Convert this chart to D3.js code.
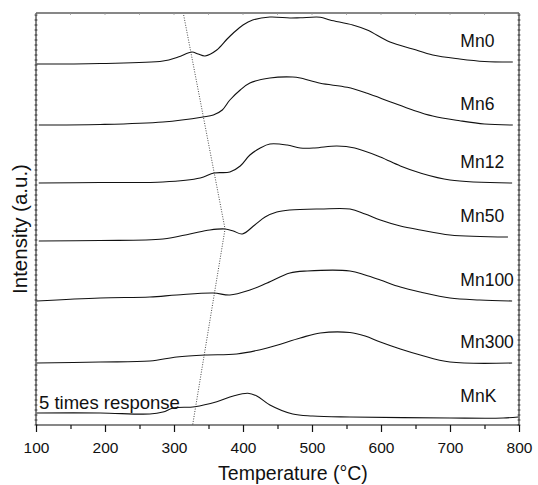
<!DOCTYPE html>
<html>
<head>
<meta charset="utf-8">
<script src="https://cdn.jsdelivr.net/npm/d3@7"></script>
<style>
  body { margin: 0; background: #fff; }
  text { font-family: Arial, "Liberation Sans", Helvetica, sans-serif; fill: #111; }
</style>
</head>
<body>
<svg width="538" height="485"></svg>
<script>
// TPR profiles, temperature (C) vs intensity (a.u., curves stacked)
var mn0 = [[101,36.1],[193,36.15],[284,36.4],[306,36.8],[326,37.3],[335,37.1],[345,36.9],[362,37.5],[377,38.6],[386,39.2],[400,40.0],[414,40.5],[439,40.8],[468,40.7],[483,40.72],[512,40.78],[526,40.5],[559,40.0],[580,39.5],[613,38.3],[646,37.6],[675,37.0],[714,36.6],[750,36.35],[791,36.3]];
var mn6 = [[104,30.0],[193,30.05],[284,30.3],[342,30.8],[357,31.0],[370,31.5],[381,32.5],[396,33.5],[410,34.2],[439,34.7],[472,34.8],[483,34.7],[512,34.17],[551,33.77],[580,33.17],[613,32.33],[646,31.5],[675,30.9],[714,30.43],[750,30.1],[791,30.0]];
var mn12 = [[104,24.2],[193,24.25],[284,24.3],[338,24.7],[358,25.2],[381,25.3],[396,25.9],[410,27.0],[425,27.7],[439,28.1],[464,28.0],[483,27.7],[504,27.7],[536,27.9],[562,27.7],[599,26.8],[628,25.9],[657,25.2],[700,24.5],[790,24.2]];
var mn50 = [[104,18.4],[193,18.45],[284,18.6],[323,19.1],[352,19.5],[374,19.6],[386,19.4],[399,19.1],[417,20.0],[432,20.8],[449,21.3],[468,21.5],[512,21.6],[555,21.6],[577,21.1],[599,20.5],[628,19.9],[657,19.5],[700,19.0],[784,18.8]];
var mn100 = [[101,12.4],[193,12.7],[265,12.8],[304,13.0],[357,13.2],[381,13.0],[410,13.5],[435,14.2],[468,15.2],[493,15.4],[555,15.4],[577,15.0],[599,14.5],[628,13.8],[657,13.3],[700,12.7],[743,12.5],[790,12.4]];
var mn300 = [[101,6.2],[193,6.3],[265,6.4],[304,6.8],[345,7.0],[391,7.1],[435,7.7],[483,8.7],[512,9.2],[555,9.25],[577,8.9],[599,8.3],[628,7.6],[657,7.0],[700,6.3],[790,6.2]];
var mnK = [[101,1.2],[193,1.2],[265,1.1],[284,1.3],[299,1.7],[330,1.83],[362,2.33],[386,2.9],[407,3.17],[420,2.9],[439,2.0],[472,1.1],[501,0.9],[555,0.8],[700,0.7],[777,0.7],[799,0.8]];

var names = ["Mn0", "Mn6", "Mn12", "Mn50", "Mn100", "Mn300", "MnK"];
var series = [mn0, mn6, mn12, mn50, mn100, mn300, mnK];

// dotted guide through the low temperature peaks
var guide = [[314, 41.0], [374, 19.6], [327, 0]];

var xTicks = [100, 200, 300, 400, 500, 600, 700, 800];
var xMinor = [150, 250, 350, 450, 550, 650, 750];

var svg = d3.select("svg");

var x = d3.scaleLinear().domain([100, 800]).range([36, 519]);
var y = d3.scaleLinear().domain([0, 41.2]).range([425, 13]);

var line = d3.line()
    .x(function(d) { return x(d[0]); })
    .y(function(d) { return y(d[1]); })
    .curve(d3.curveCatmullRom.alpha(0.5));

// frame
svg.append("line").attr("x1", 36).attr("x2", 519).attr("y1", 13).attr("y2", 13)
    .attr("stroke", "#111").attr("stroke-width", 1.2);
svg.append("line").attr("x1", 519).attr("x2", 519).attr("y1", 13).attr("y2", 425)
    .attr("stroke", "#111").attr("stroke-width", 1);
svg.append("line").attr("x1", 36).attr("x2", 36).attr("y1", 13).attr("y2", 425)
    .attr("stroke", "#111").attr("stroke-width", 1);

// dense little ticks on both vertical sides
var yMinor = d3.range(0, 41.1, 0.5);
[36, 519].forEach(function(px) {
  svg.append("g").selectAll("line")
    .data(yMinor)
    .enter().append("line")
      .attr("x1", px - 1.5).attr("x2", px + 1.5)
      .attr("y1", function(d) { return y(d); })
      .attr("y2", function(d) { return y(d); })
      .attr("stroke", "#222").attr("stroke-width", 0.8);
});

// faint ticks along the top
svg.append("g").selectAll("line")
  .data(xTicks.concat(xMinor))
  .enter().append("line")
    .attr("x1", function(d) { return x(d); })
    .attr("x2", function(d) { return x(d); })
    .attr("y1", 13).attr("y2", 15)
    .attr("stroke", "#999").attr("stroke-width", 0.8);

// bottom axis
var gx = svg.append("g").attr("transform", "translate(0,425)");
gx.call(d3.axisBottom(x).tickValues(xTicks).tickSize(7).tickPadding(10).tickFormat(d3.format("d")));
gx.selectAll("text").attr("font-size", 15.5).attr("font-family", null).style("fill", "#111");
gx.selectAll("line, path").attr("stroke", "#111").attr("stroke-width", 1.2);
gx.select(".domain").attr("d", "M36,0H519");

var gm = svg.append("g").attr("transform", "translate(0,425)");
gm.call(d3.axisBottom(x).tickValues(xMinor).tickSize(4).tickFormat(""));
gm.select(".domain").remove();
gm.selectAll("line").attr("stroke", "#111").attr("stroke-width", 1.2);

// curves
svg.append("g").selectAll("path")
  .data(series)
  .enter().append("path")
    .attr("d", line)
    .attr("fill", "none")
    .attr("stroke", "#111")
    .attr("stroke-width", 1.1);

svg.append("path")
    .datum(guide)
    .attr("d", d3.line().x(function(d) { return x(d[0]); }).y(function(d) { return y(d[1]); }))
    .attr("fill", "none")
    .attr("stroke", "#333")
    .attr("stroke-width", 0.9)
    .attr("stroke-dasharray", "1,1.5");

// sample names
svg.append("g").selectAll("text")
  .data(series)
  .enter().append("text")
    .attr("x", x(715))
    .attr("y", function(d) { return y(d[d.length - 1][1]) - 15; })
    .attr("font-size", 17.5)
    .text(function(d, i) { return names[i]; });

svg.append("text")
    .attr("x", 39)
    .attr("y", y(mnK[0][1]) - 4)
    .attr("font-size", 18.5)
    .text("5 times response");

// axis titles
svg.append("text")
    .attr("x", 293)
    .attr("y", 480)
    .attr("text-anchor", "middle")
    .attr("font-size", 19.5)
    .text("Temperature (°C)");

svg.append("text")
    .attr("transform", "translate(27,229) rotate(-90)")
    .attr("text-anchor", "middle")
    .attr("font-size", 20.5)
    .text("Intensity (a.u.)");
</script>
</body>
</html>
